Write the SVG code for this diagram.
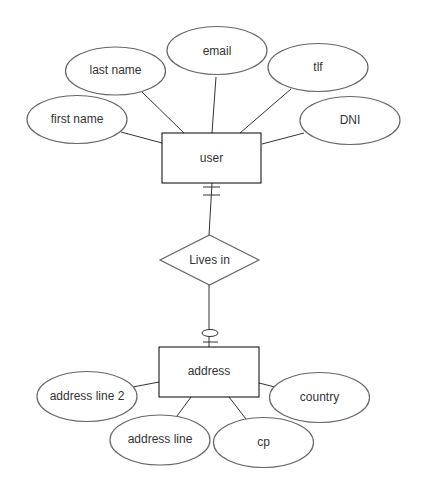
<svg xmlns="http://www.w3.org/2000/svg" width="426" height="494" viewBox="0 0 426 494">
<style>
.attr{fill:#fff;stroke:#666;stroke-width:1.2}
.ent{fill:#fff;stroke:#000;stroke-width:1}
.lbl{font-family:"Liberation Sans",Arial,sans-serif;font-size:12px;fill:#333;text-anchor:middle;dominant-baseline:central}
.con line,.con path{stroke:#333;stroke-width:1;fill:none}
</style>
<rect width="426" height="494" fill="#fff"/>
<g class="con">
<line x1="121" y1="132" x2="162" y2="143"/>
<line x1="142" y1="92" x2="184" y2="133"/>
<line x1="216" y1="77" x2="212" y2="133"/>
<line x1="291" y1="89" x2="240" y2="133"/>
<line x1="304" y1="133" x2="262" y2="144"/>
<line x1="212" y1="183" x2="209" y2="235"/>
<line x1="203" y1="187" x2="220" y2="187"/>
<line x1="203" y1="195" x2="220" y2="195"/>
<line x1="209" y1="285" x2="209" y2="347"/>
<ellipse cx="210" cy="333" rx="8" ry="3.5" fill="#fff" stroke="#333"/>
<line x1="203" y1="342" x2="218" y2="342"/>
<line x1="133" y1="387" x2="159" y2="382"/>
<line x1="177" y1="416" x2="191" y2="397"/>
<line x1="229" y1="397" x2="246" y2="419"/>
<line x1="259" y1="383" x2="275" y2="387"/>
</g>
<g id="user"><rect class="ent" x="162" y="133" width="99" height="50"/><text class="lbl" x="211.5" y="158">user</text></g>
<g id="first-name"><ellipse class="attr" cx="77" cy="119.5" rx="50" ry="24"/><text class="lbl" x="77" y="119">first name</text></g>
<g id="last-name"><ellipse class="attr" cx="115.5" cy="71" rx="50" ry="24"/><text class="lbl" x="115.5" y="70">last name</text></g>
<g id="email"><ellipse class="attr" cx="217" cy="50.5" rx="50" ry="24"/><text class="lbl" x="217" y="51">email</text></g>
<g id="tlf"><ellipse class="attr" cx="318" cy="67.5" rx="50" ry="24"/><text class="lbl" x="318" y="67">tlf</text></g>
<g id="dni"><ellipse class="attr" cx="350" cy="120.5" rx="50" ry="24"/><text class="lbl" x="350" y="120">DNI</text></g>
<g id="lives-in"><polygon class="attr" points="209.5,235 259,260 209.5,285 160,260"/><text class="lbl" x="209.5" y="260">Lives in</text></g>
<g id="address"><rect class="ent" x="159" y="347" width="100" height="50"/><text class="lbl" x="209" y="371">address</text></g>
<g id="address-line-2"><ellipse class="attr" cx="87" cy="396.5" rx="50" ry="25"/><text class="lbl" x="87" y="396">address line 2</text></g>
<g id="address-line"><ellipse class="attr" cx="160" cy="440" rx="50" ry="25"/><text class="lbl" x="160" y="439">address line</text></g>
<g id="cp"><ellipse class="attr" cx="263.5" cy="442.5" rx="50" ry="25"/><text class="lbl" x="263.5" y="442">cp</text></g>
<g id="country"><ellipse class="attr" cx="319.5" cy="397.5" rx="50" ry="25"/><text class="lbl" x="319.5" y="397">country</text></g>
</svg>
